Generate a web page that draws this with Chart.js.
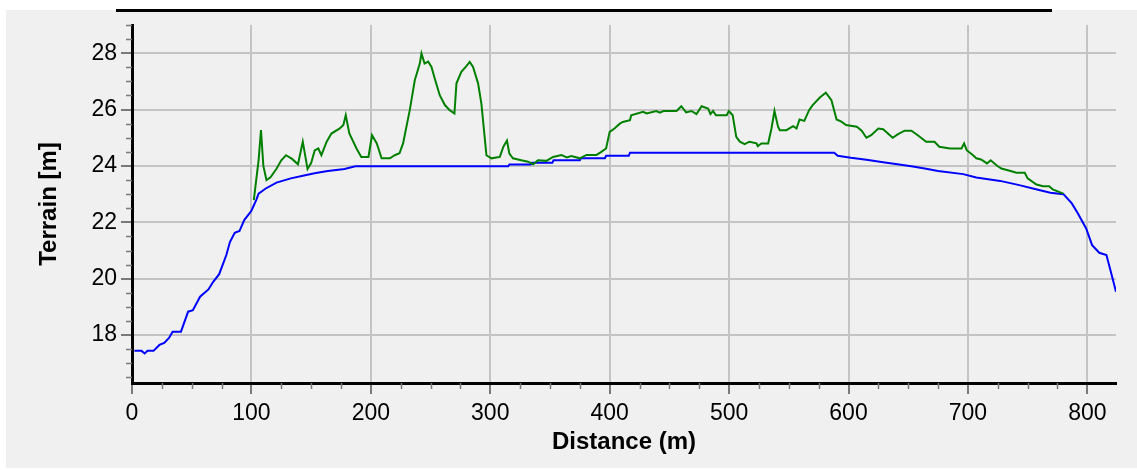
<!DOCTYPE html>
<html>
<head>
<meta charset="utf-8">
<script src="https://cdn.jsdelivr.net/npm/chart.js@4.4.1/dist/chart.umd.min.js"></script>
<style>
  html, body { margin: 0; padding: 0; background: #fff; }
  #wrap { position: relative; width: 1137px; height: 470px; overflow: hidden; }
  #panel { position: absolute; left: 6px; top: 10px; right: 0; bottom: 2px; background: #f0f0f0; }
  #topBar { position: absolute; left: 116px; top: 9px; width: 936px; height: 3px; background: #000; }
  #profile { position: absolute; left: 0; top: 0; }
</style>
</head>
<body>
<div id="wrap">
  <div id="panel"></div>
  <div id="topBar"></div>
  <canvas id="profile" width="1137" height="470"></canvas>
</div>
<script>
// ground line (blue)
const groundDist = [2, 8, 10.6, 13, 18, 23, 27, 31, 34, 41, 47, 51, 57, 64, 68, 73, 79, 82, 86, 90,
  94, 100, 104, 106, 112, 121, 133, 145, 154, 164, 178, 187, 315, 316, 334, 335, 352, 353, 375, 376,
  396, 397, 416, 417, 588, 591, 602, 615, 629, 641, 654, 665, 675, 696, 707, 727, 743, 757, 769, 780,
  787, 792, 799, 804, 810, 816, 820, 824];
const groundElev = [17.44, 17.44, 17.35, 17.44, 17.44, 17.65, 17.72, 17.9, 18.12, 18.12, 18.83, 18.88,
  19.36, 19.62, 19.89, 20.16, 20.84, 21.3, 21.63, 21.69, 22.08, 22.41, 22.79, 23.02, 23.2, 23.41, 23.56,
  23.67, 23.75, 23.82, 23.89, 23.99, 23.99, 24.05, 24.05, 24.11, 24.11, 24.2, 24.2, 24.27, 24.27, 24.36,
  24.36, 24.47, 24.47, 24.36, 24.29, 24.22, 24.13, 24.06, 23.98, 23.9, 23.82, 23.71, 23.59, 23.47, 23.32,
  23.17, 23.05, 23.0, 22.67, 22.32, 21.78, 21.19, 20.92, 20.84, 20.19, 19.54];

// surface line (green)
const surfDist = [102, 104, 106, 108, 110, 112.6, 116, 121, 125, 129, 134, 139, 143, 147, 150, 153, 156,
  158.6, 163, 167, 174, 177, 179, 182, 188, 192, 198, 201, 205, 209, 216, 220, 224, 227, 232.6, 236.8,
  241, 242.4, 245, 248, 250.8, 253.5, 257.7, 262, 266, 270, 271.7, 275.8, 280, 282.8, 285.6, 289.8,
  292.6, 296.8, 301, 308, 311, 314, 316, 319, 326, 331.6, 336, 340, 347, 352.6, 359.6, 364, 368, 375,
  380.6, 389, 393, 397, 400, 404, 408.5, 411, 417, 418, 428, 431, 439, 442, 445, 456, 460, 464, 468.5,
  472.7, 477, 482.4, 484.4, 486.6, 489, 498, 499.8, 503, 506, 509, 513, 517, 523, 524, 527, 532.7, 535.5,
  538, 541, 542.5, 548, 553.6, 556.5, 559, 563, 567, 570, 576, 581, 585.7, 590, 594, 598, 607, 611, 615,
  619, 625, 629, 637, 641.5, 647, 652.7, 658, 665, 672, 676, 685, 694.6, 696.8, 699, 704.3, 707, 711,
  716, 719, 725, 728, 735, 740.7, 747.6, 750, 757.4, 763, 768, 771, 780];
const surfElev = [22.79, 23.5, 24.2, 25.27, 24.0, 23.5, 23.6, 23.9, 24.2, 24.38, 24.25, 24.06, 24.86,
  23.89, 24.1, 24.55, 24.62, 24.38, 24.86, 25.15, 25.33, 25.45, 25.8, 25.15, 24.62, 24.32, 24.32, 25.09,
  24.8, 24.27, 24.27, 24.38, 24.45, 24.8, 25.98, 27.04, 27.63, 27.99, 27.63, 27.7, 27.51, 27.1, 26.51,
  26.16, 25.98, 25.86, 26.93, 27.34, 27.54, 27.69, 27.51, 26.93, 26.2, 24.38, 24.27, 24.32, 24.68, 24.9,
  24.44, 24.27, 24.2, 24.15, 24.06, 24.2, 24.18, 24.32, 24.39, 24.3, 24.35, 24.27, 24.39, 24.39, 24.5,
  24.62, 25.21, 25.33, 25.5, 25.56, 25.62, 25.8, 25.92, 25.86, 25.95, 25.89, 25.95, 25.95, 26.12, 25.9,
  25.95, 25.84, 26.12, 26.04, 25.84, 25.95, 25.8, 25.8, 25.95, 25.8, 25.03, 24.86, 24.77, 24.86, 24.8,
  24.7, 24.8, 24.8, 25.33, 25.95, 25.39, 25.27, 25.27, 25.41, 25.33, 25.65, 25.6, 25.98, 26.16, 26.43,
  26.6, 26.33, 25.65, 25.57, 25.45, 25.39, 25.25, 25.0, 25.09, 25.33, 25.3, 25.0, 25.13, 25.25, 25.25,
  25.09, 24.86, 24.86, 24.68, 24.62, 24.62, 24.8, 24.56, 24.38, 24.27, 24.23, 24.09, 24.2, 23.99, 23.91,
  23.83, 23.76, 23.76, 23.56, 23.34, 23.28, 23.28, 23.17, 23.02];

const xMin = 0, xMax = 824, xStep = 25, xLabelStep = 100;
const yMin = 16.3, yMax = 29, yStep = 0.5, yLabelStep = 2;

function toPoints(xs, ys) {
  return xs.map((x, i) => ({ x: x, y: ys[i] }));
}

function isMajor(value, step) {
  return Math.abs(value / step - Math.round(value / step)) < 1e-6;
}

const labelFont = { family: "'Liberation Sans', Arial, sans-serif", size: 23 };
const titleFont = { family: "'Liberation Sans', Arial, sans-serif", size: 24, weight: "bold" };

// short marks for the in-between ticks
const minorTicks = {
  id: "minorTicks",
  afterDraw(chart) {
    const ctx = chart.ctx;
    const xs = chart.scales.x;
    const ys = chart.scales.y;
    ctx.save();
    ctx.strokeStyle = "#7a7a7a";
    ctx.lineWidth = 1.5;
    ctx.beginPath();
    xs.ticks.forEach((t) => {
      if (isMajor(t.value, xLabelStep)) return;
      const px = Math.round(xs.getPixelForValue(t.value)) + 0.5;
      ctx.moveTo(px, xs.top);
      ctx.lineTo(px, xs.top + 6);
    });
    ys.ticks.forEach((t) => {
      if (isMajor(t.value, yLabelStep)) return;
      const py = Math.round(ys.getPixelForValue(t.value)) + 0.5;
      ctx.moveTo(ys.right, py);
      ctx.lineTo(ys.right - 6, py);
    });
    ctx.stroke();
    ctx.restore();
  },
};

new Chart(document.getElementById("profile").getContext("2d"), {
  type: "line",
  data: {
    datasets: [
      {
        label: "Surface",
        data: toPoints(surfDist, surfElev),
        borderColor: "#008000",
        borderWidth: 2,
        pointRadius: 0,
        tension: 0,
        order: 1,
      },
      {
        label: "Terrain",
        data: toPoints(groundDist, groundElev),
        borderColor: "#0000ff",
        borderWidth: 2,
        pointRadius: 0,
        tension: 0,
        order: 2,
      },
    ],
  },
  options: {
    responsive: false,
    animation: false,
    layout: { padding: { top: 25, right: 21, bottom: 2, left: 35 } },
    plugins: { legend: { display: false }, tooltip: { enabled: false } },
    scales: {
      x: {
        type: "linear",
        min: xMin,
        max: xMax,
        afterFit: (s) => { s.height = 85; },
        border: { color: "#000", width: 3 },
        grid: {
          color: (c) => (c.tick && isMajor(c.tick.value, xLabelStep) ? "#c4c4c4" : "transparent"),
          lineWidth: 2,
          tickLength: 11,
          tickColor: (c) => (c.tick && isMajor(c.tick.value, xLabelStep) ? "#7a7a7a" : "transparent"),
          tickWidth: 2,
        },
        ticks: {
          stepSize: xStep,
          includeBounds: false,
          autoSkip: false,
          maxRotation: 0,
          padding: 6,
          color: "#000",
          font: labelFont,
          callback: (v) => (isMajor(v, xLabelStep) ? String(v) : ""),
        },
        title: {
          display: true,
          text: "Distance (m)",
          color: "#000",
          font: titleFont,
          padding: { top: 0, bottom: 11 },
        },
      },
      y: {
        min: yMin,
        max: yMax,
        afterFit: (s) => { s.width = 97; },
        border: { color: "#000", width: 3 },
        grid: {
          color: (c) => (c.tick && isMajor(c.tick.value, yLabelStep) ? "#c4c4c4" : "transparent"),
          lineWidth: 2,
          tickLength: 11,
          tickColor: (c) => (c.tick && isMajor(c.tick.value, yLabelStep) ? "#7a7a7a" : "transparent"),
          tickWidth: 2,
        },
        ticks: {
          stepSize: yStep,
          includeBounds: false,
          autoSkip: false,
          padding: 4,
          color: "#000",
          font: labelFont,
          callback: (v) => (isMajor(v, yLabelStep) ? String(v) : ""),
        },
        title: {
          display: true,
          text: "Terrain [m]",
          color: "#000",
          font: titleFont,
          padding: { top: 0, bottom: 0 },
        },
      },
    },
  },
  plugins: [minorTicks],
});
</script>
</body>
</html>
